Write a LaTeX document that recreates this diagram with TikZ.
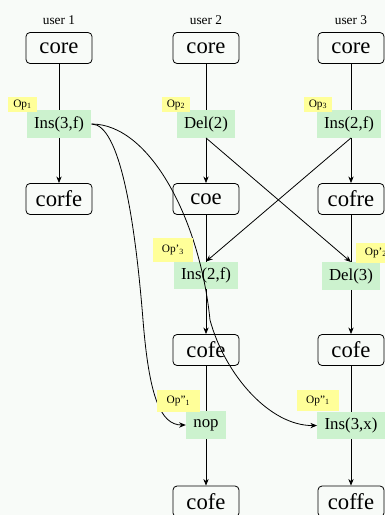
\documentclass[tikz,border=0pt]{standalone}
\usepackage{fontspec}
\setmainfont{Liberation Serif}
\usetikzlibrary{arrows.meta}
\definecolor{opgreen}{RGB}{204,242,206}
\definecolor{taggold}{RGB}{255,255,153}
\definecolor{paper}{RGB}{248,251,248}
\begin{document}
\begin{tikzpicture}[x=0.75pt, y=-0.75pt,
    state/.style={draw, rounded corners=3pt, line width=0.6pt,
      minimum width=49.5pt, minimum height=23.25pt, inner sep=0pt,
      font=\fontsize{17}{17}\selectfont},
    opnode/.style={fill=opgreen, minimum height=20.5pt,
      inner xsep=5.5pt, inner ysep=0pt,
      font=\fontsize{12.6}{13}\selectfont},
    tag/.style={fill=taggold, inner sep=0pt,
      font=\fontsize{8.5}{9}\selectfont},
    usertext/.style={font=\fontsize{10}{10}\selectfont},
    link/.style={line width=0.6pt},
    flow/.style={line width=0.6pt, -{Stealth[length=5pt,width=4pt]}}]

    % page and paper
    \useasboundingbox (0,0) rectangle (385,515);
    \clip (0,0) rectangle (385,515);
    \fill[paper] (0,0) rectangle (385,515);

    % Users
    \node[usertext] (user1) at (59,20) {user 1};
    \node[usertext] (user2) at (206,20) {user 2};
    \node[usertext] (user3) at (351,20) {user 3};

    % Starting states
    \node[state] (core1) at (59,48) {core};
    \node[state] (core2) at (206,48) {core};
    \node[state] (core3) at (351,48) {core};

    % Local operations
    \node[opnode] (ins1) at (59,124) {Ins(3,f)};
    \node[opnode] (del2) at (206,124) {Del(2)};
    \node[opnode] (ins3) at (349,124) {Ins(2,f)};

    % States after local operations
    \node[state] (corfe) at (59,199) {corfe};
    \node[state] (coe) at (206,199) {coe};
    \node[state] (cofre) at (351,199) {cofre};

    % Transformed operations
    \node[opnode] (insB) at (206,275.5) {Ins(2,f)};
    \node[opnode] (delB) at (351,276) {Del(3)};

    % States after transformed operations
    \node[state] (cofeB) at (206,350) {cofe};
    \node[state] (cofeC) at (351,350) {cofe};

    % Twice transformed operations
    \node[opnode] (nop) at (206,425) {nop};
    \node[opnode] (insx) at (351,425.5) {Ins(3,x)};

    % Final states
    \node[state] (cofeD) at (206,501.5) {cofe};
    \node[state] (coffe) at (351,501.5) {coffe};

    % Draw lines
    \draw[link] (core1) -- (ins1);
    \draw[link] (core2) -- (del2);
    \draw[link] (core3.south) -- (core3.south |- ins3.north);
    \draw[link] (coe) -- (insB);
    \draw[link] (cofre) -- (delB);
    \draw[link] (cofeB) -- (nop);
    \draw[link] (cofeC) -- (insx);

    % Draw arrows
    \draw[flow] (ins1) -- (corfe);
    \draw[flow] (del2) -- (coe);
    \draw[flow] (ins3.south -| cofre.north) -- (cofre);
    \draw[flow] (del2.south) -- (delB.north);
    \draw[flow] (ins3.south -| cofre.north) -- (insB.north);
    \draw[flow] (insB) -- (cofeB);
    \draw[flow] (delB) -- (cofeC);
    \draw[flow] (nop) -- (cofeD);
    \draw[flow] (insx) -- (coffe);

    % Remote operation of user 1
    \draw[flow] (ins1.east) .. controls (120,124) and (135,220) .. (143,320)
      .. controls (149,395) and (160,425) .. (nop.west);
    \draw[flow] (ins1.east) .. controls (150,124) and (200,220) .. (210,320)
      .. controls (225,375) and (270,426) .. (insx.west);

    % Operation tags
    \node[tag, minimum width=21.75pt, minimum height=11.25pt] (tag1) at (22.5,104.5) {Op\textsubscript{1}};
    \node[tag, minimum width=21pt, minimum height=11.25pt] (tag2) at (176,104.5) {Op\textsubscript{2}};
    \node[tag, minimum width=21pt, minimum height=11.25pt] (tag3) at (318,104.5) {Op\textsubscript{3}};
    \node[tag, minimum width=30pt, minimum height=18pt] (tagB3) at (173,250) {Op'\textsubscript{3}};
    \node[tag, minimum width=30pt, minimum height=15pt] (tagB2) at (376,252.5) {Op'\textsubscript{2}};
    \node[tag, minimum width=32pt, minimum height=16.5pt] (tagC1) at (178.5,401) {Op''\textsubscript{1}};
    \node[tag, minimum width=31pt, minimum height=16pt] (tagD1) at (318,400.5) {Op''\textsubscript{1}};

\end{tikzpicture}
\end{document}
